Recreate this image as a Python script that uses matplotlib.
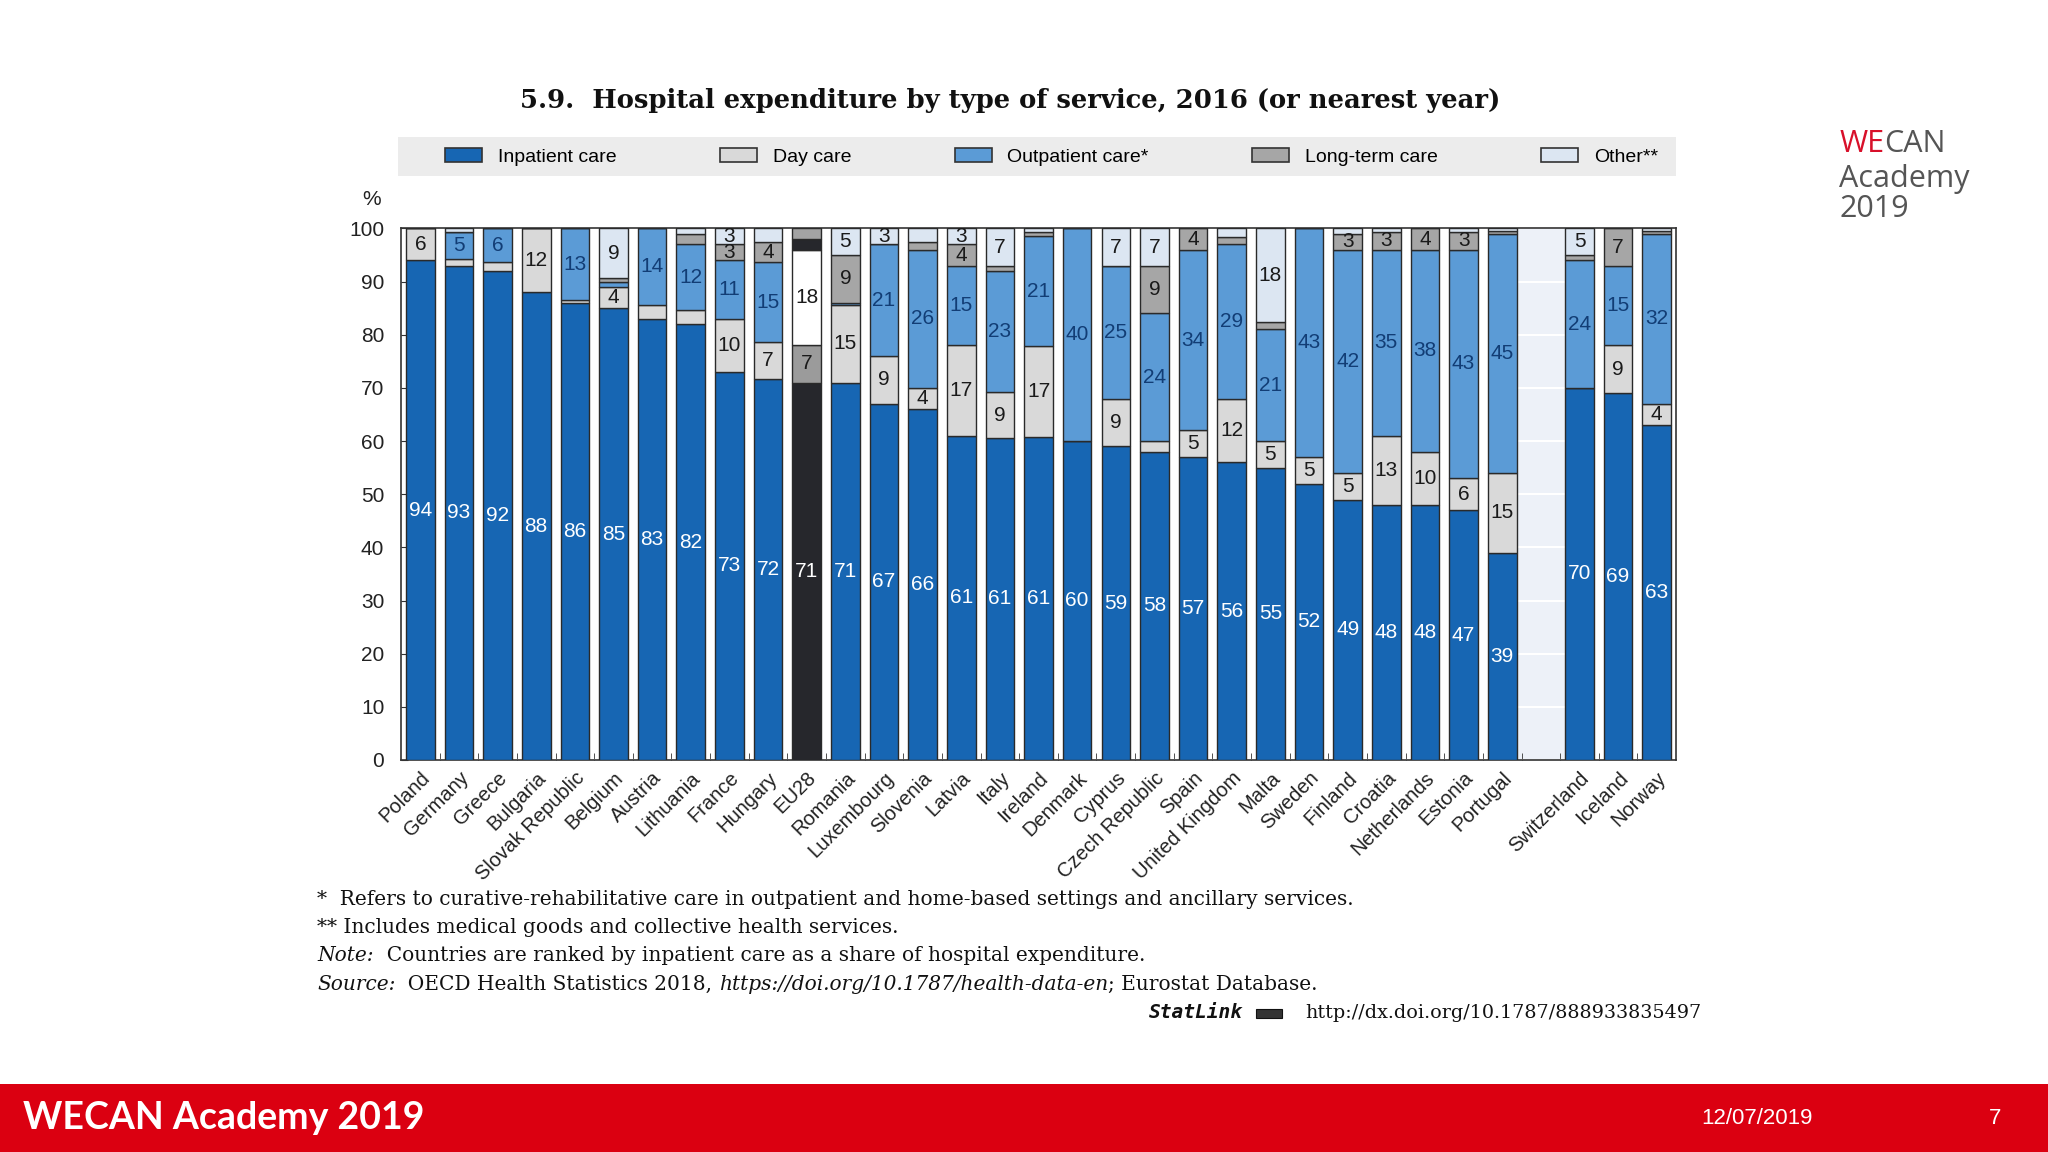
import matplotlib
matplotlib.use("Agg")
import matplotlib.pyplot as plt
from matplotlib.patches import Patch, Rectangle
import numpy as np

# data (share of hospital expenditure, %)
countries = ["Poland", "Germany", "Greece", "Bulgaria", "Slovak Republic", "Belgium",
             "Austria", "Lithuania", "France", "Hungary", "EU28", "Romania", "Luxembourg",
             "Slovenia", "Latvia", "Italy", "Ireland", "Denmark", "Cyprus", "Czech Republic",
             "Spain", "United Kingdom", "Malta", "Sweden", "Finland", "Croatia", "Netherlands",
             "Estonia", "Portugal", "Switzerland", "Iceland", "Norway"]
inpatient  = [94, 93, 92, 88, 86, 85, 83, 82, 73, 71.6, 71, 71, 67, 66, 61, 60.6, 60.8, 60,
              59, 58, 57, 56, 55, 52, 49, 48, 48, 47, 39, 70, 69, 63]
day_care   = [6, 1.3, 1.6, 12, 0.6, 4, 2.6, 2.6, 10, 7, 7, 14.6, 9, 4, 17, 8.6, 17, 0,
              9, 2, 5, 12, 5, 5, 5, 13, 10, 6, 15, 0, 9, 4]
outpatient = [0, 5, 6.4, 0, 13.4, 1, 14.4, 12.4, 11, 15, 18, 0.4, 21, 26, 15, 22.8, 20.7, 40,
              25, 24, 34, 29, 21, 43, 42, 35, 38, 43, 45, 24, 15, 32]
long_term  = [0, 0, 0, 0, 0, 0.7, 0, 2, 3, 3.8, 2, 9, 0, 1.5, 4, 1, 0.8, 0,
              0, 9, 4, 1.3, 1.4, 0, 3, 3.3, 4, 3.3, 0.5, 1, 7, 0.5]
other      = [0, 0.7, 0, 0, 0, 9.3, 0, 1, 3, 2.6, 2, 5, 3, 2.5, 3, 7, 0.7, 0,
              7, 7, 0, 1.7, 17.6, 0, 1, 0.7, 0, 0.7, 0.5, 5, 0, 0.5]
series_names = ["Inpatient care", "Day care", "Outpatient care*", "Long-term care", "Other**"]

series = [inpatient, day_care, outpatient, long_term, other]
colors = ["#1766b3", "#d9d9d9", "#5b9bd6", "#a6a6a6", "#dce6f2"]
eu_colors = ["#26272c", "#9b9b9b", "#ffffff", "#26272c", "#a3a3a3"]
txt_colors = ["white", "#1a1a1a", "#123d75", "#1a1a1a", "#1a1a1a"]
eu_txt = ["white", "#1a1a1a", "#1a1a1a", "white", "#1a1a1a"]

narrow = ["Liberation Sans Narrow", "Liberation Sans", "DejaVu Sans"]
serif = "DejaVu Serif"

fig = plt.figure(figsize=(20.48, 11.52), dpi=100)
ax = fig.add_axes([0.1958, 0.3403, 0.6226, 0.4614])

# leave an empty slot between Portugal and Switzerland
x = np.arange(len(countries))
x[x >= countries.index("Switzerland")] += 1
gap = countries.index("Switzerland")

ax.axvspan(gap - 0.62, gap + 0.62, color="#edf1f8", zorder=0, lw=0)
ax.set_yticks(np.arange(0, 101, 10))
ax.yaxis.grid(True, color="white", lw=1.5, zorder=1)

bottom = np.zeros(len(countries))
for k, vals in enumerate(series):
    vals = np.array(vals, dtype=float)
    fc = [eu_colors[k] if c == "EU28" else colors[k] for c in countries]
    ax.bar(x, vals, 0.74, bottom=bottom, color=fc, edgecolor="#2a2a2a", linewidth=1.0, zorder=3)
    for xi, v, b, c in zip(x, vals, bottom, countries):
        if v >= 3:
            tc = eu_txt[k] if c == "EU28" else txt_colors[k]
            ax.text(xi, b + v / 2, f"{v:.0f}", ha="center", va="center", color=tc,
                    fontsize=15, family=narrow, zorder=4)
    bottom += vals

ax.set_xlim(-0.5, x[-1] + 0.5)
ax.set_ylim(0, 100)
ax.set_xticks(x)
ax.set_xticklabels(countries, rotation=45, ha="right", rotation_mode="anchor",
                   fontsize=14.5, family=narrow, color="#222")
ax.set_xticks(np.arange(-0.5, x[-1] + 0.5, 1)[1:], minor=True)
ax.tick_params(axis="x", which="major", length=0, pad=6)
ax.tick_params(axis="x", which="minor", direction="in", length=5, color="#333")
ax.tick_params(axis="y", direction="in", length=5, color="#333", pad=12, labelsize=15)
for lab in ax.get_yticklabels():
    lab.set_family(narrow)
    lab.set_color("#222")
for s in ax.spines.values():
    s.set_color("#333")
    s.set_linewidth(1.2)

fig.text(0.1816, 0.8264, "%", fontsize=15, family=narrow, ha="center", va="center", color="#222")

# legend band
fig.add_artist(Rectangle((0.1945, 0.847), 0.6237, 0.034, transform=fig.transFigure,
                         color="#ececec", lw=0, zorder=0))
handles = [Patch(facecolor=c, edgecolor="#333", lw=1.2) for c in colors]
leg = fig.legend(handles, series_names, loc="center left", ncol=5, mode="expand",
                 bbox_to_anchor=(0.2175, 0.864, 0.592, 0.0), borderaxespad=0,
                 frameon=False, handlelength=1.9, handleheight=0.75, borderpad=0,
                 prop={"family": narrow, "size": 14})

fig.text(0.4933, 0.9127, "5.9.  Hospital expenditure by type of service, 2016 (or nearest year)",
         ha="center", va="center", fontsize=18.6, weight="bold", family=serif, color="#111")


def note_line(parts, xf, yf):
    prev = fig.text(xf, yf, parts[0][0], style=parts[0][1], va="baseline",
                    fontsize=14.5, family=serif, color="#111")
    for s, st in parts[1:]:
        prev = ax.annotate(s, xy=(1, yf), xycoords=(prev, "figure fraction"), va="baseline",
                           style=st, fontsize=14.5, family=serif, color="#111",
                           annotation_clip=False)


note_line([("*  Refers to curative-rehabilitative care in outpatient and home-based settings and ancillary services.", "normal")], 0.1548, 0.2145)
note_line([("** Includes medical goods and collective health services.", "normal")], 0.1548, 0.1900)
note_line([("Note:", "italic"), ("  Countries are ranked by inpatient care as a share of hospital expenditure.", "normal")], 0.1548, 0.1655)
note_line([("Source:", "italic"), ("  OECD Health Statistics 2018, ", "normal"),
           ("https://doi.org/10.1787/health-data-en", "italic"), ("; Eurostat Database.", "normal")],
          0.1548, 0.1410)
fig.text(0.561, 0.1160, "StatLink", style="italic", weight="bold", fontsize=14,
         family="DejaVu Sans Mono", va="baseline", color="#111")
fig.add_artist(Rectangle((0.6135, 0.1160), 0.0125, 0.0085, transform=fig.transFigure,
                         facecolor="#333", edgecolor="#111", lw=0.8))
fig.text(0.831, 0.1160, "http://dx.doi.org/10.1787/888933835497", ha="right", va="baseline",
         fontsize=13.8, family=serif, color="#111")

# footer band
fig.add_artist(Rectangle((0, 0), 1, 0.059, transform=fig.transFigure, color="#db0011", lw=0))
fig.text(0.011, 0.0295, "WECAN Academy 2019", color="white", fontsize=27, weight="bold",
         family="Lato", va="center")
fig.text(0.858, 0.0295, "12/07/2019", color="white", fontsize=16, family="Liberation Sans",
         ha="center", va="center")
fig.text(0.974, 0.0295, "7", color="white", fontsize=16, family="Liberation Sans",
         ha="center", va="center")

# logo text
we = fig.text(0.898, 0.875, "WE", color="#d8102a", fontsize=22, family="Open Sans", va="center")
ax.annotate("CAN", xy=(1, 0.875), xycoords=(we, "figure fraction"), va="center", color="#555",
            fontsize=22, family="Open Sans", annotation_clip=False)
fig.text(0.898, 0.845, "Academy", color="#555", fontsize=22, family="Open Sans", va="center")
fig.text(0.898, 0.819, "2019", color="#555", fontsize=22, family="Open Sans", va="center")

fig.savefig("out.png", dpi=100, facecolor="white")
